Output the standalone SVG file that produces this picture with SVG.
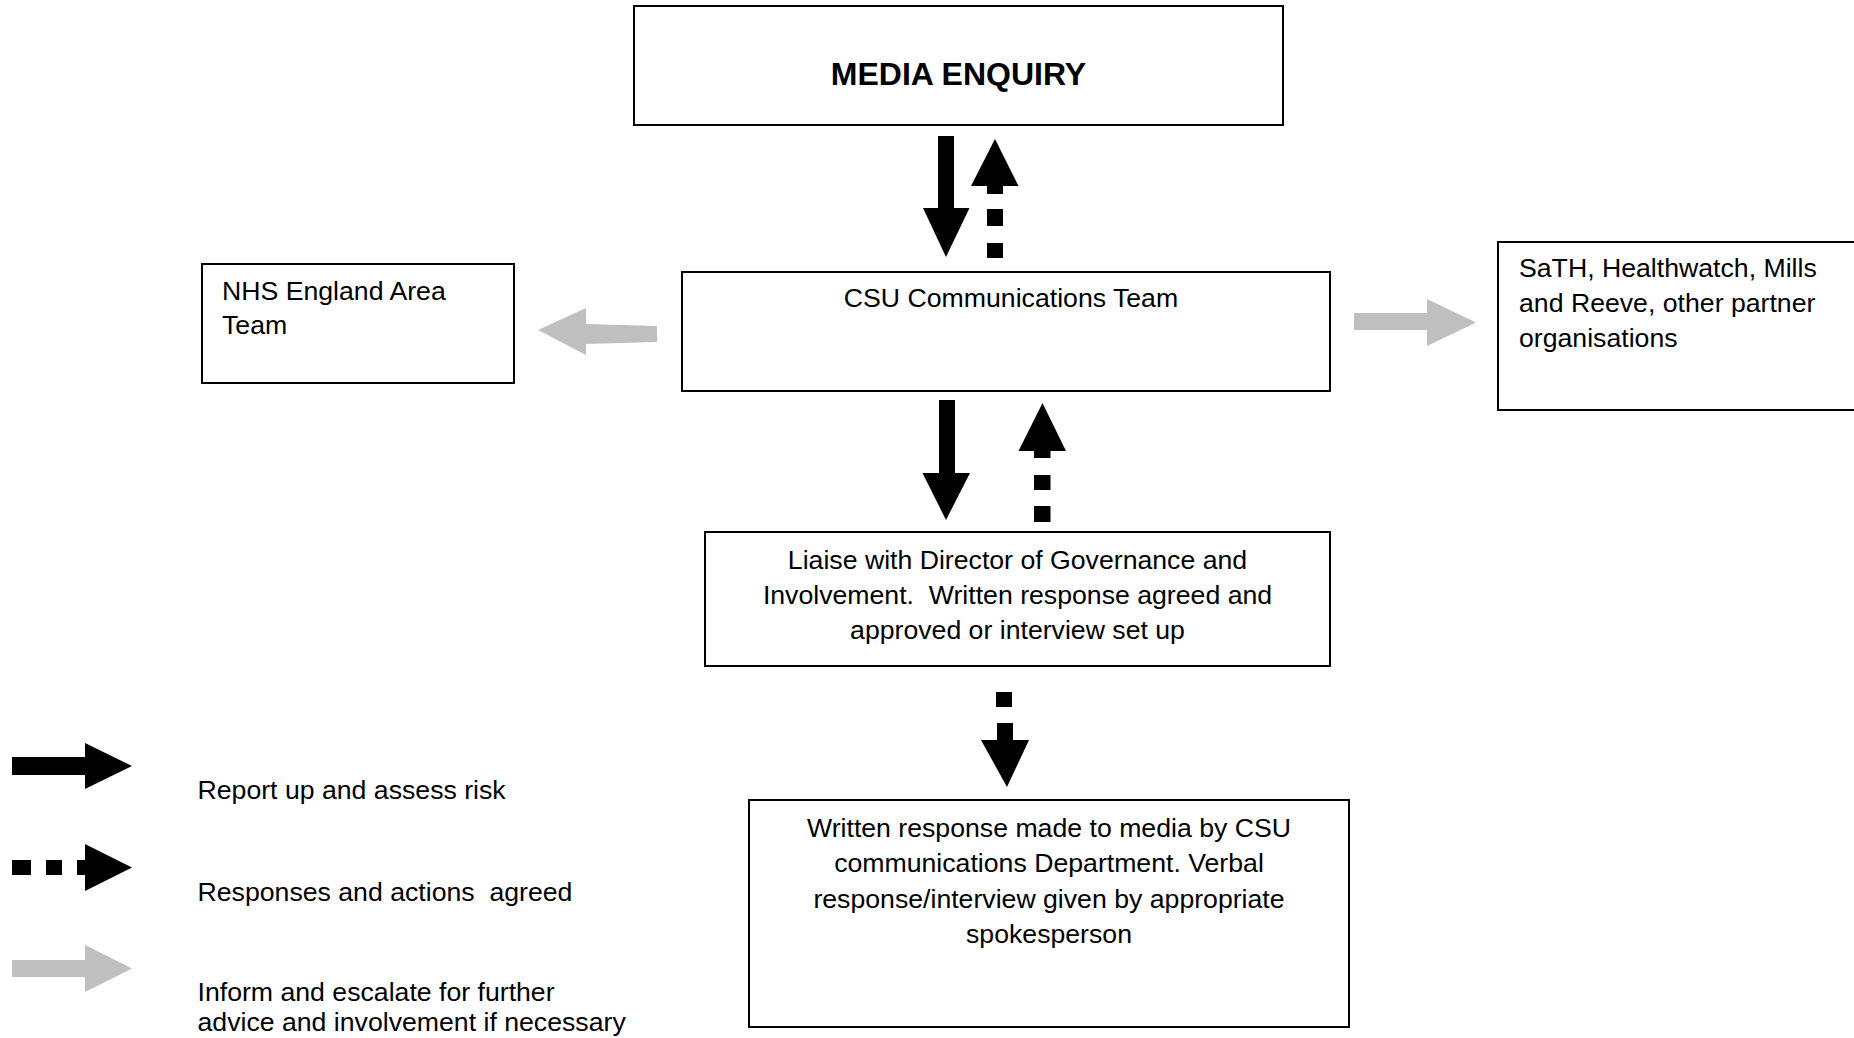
<svg xmlns="http://www.w3.org/2000/svg" width="1854" height="1038" viewBox="0 0 1854 1038">
<style>
.box{fill:#ffffff;stroke:#000000;stroke-width:2}
.t{font-family:"Liberation Sans",Arial,sans-serif;font-size:26.67px;fill:#000000}
.c{text-anchor:middle}
.b{font-weight:bold;font-size:32px}
.blk{fill:#000000}
.gry{fill:#bfbfbf}
</style>
<rect x="0" y="0" width="1854" height="1038" fill="#ffffff"/>
<g id="media-enquiry">
<rect class="box" x="634" y="6" width="649" height="119"/>
<text class="t c b" x="958.5" y="85">MEDIA ENQUIRY</text>
</g>
<g id="csu-team">
<rect class="box" x="682" y="272" width="648" height="119"/>
<text class="t c" x="1011" y="307">CSU Communications Team</text>
</g>
<g id="nhs-england">
<rect class="box" x="202" y="264" width="312" height="119"/>
<text class="t" x="222" y="300">NHS England Area</text>
<text class="t" x="222" y="334">Team</text>
</g>
<g id="partners">
<rect class="box" x="1498" y="242" width="380" height="168"/>
<text class="t" x="1519" y="277">SaTH, Healthwatch, Mills</text>
<text class="t" x="1519" y="312">and Reeve, other partner</text>
<text class="t" x="1519" y="347">organisations</text>
</g>
<g id="liaise">
<rect class="box" x="705" y="532" width="625" height="134"/>
<text class="t c" x="1017.5" y="569">Liaise with Director of Governance and</text>
<text class="t c" x="1017.5" y="604" xml:space="preserve">Involvement.  Written response agreed and</text>
<text class="t c" x="1017.5" y="639">approved or interview set up</text>
</g>
<g id="written-response">
<rect class="box" x="749" y="800" width="600" height="227"/>
<text class="t c" x="1049" y="837">Written response made to media by CSU</text>
<text class="t c" x="1049" y="872">communications Department. Verbal</text>
<text class="t c" x="1049" y="908">response/interview given by appropriate</text>
<text class="t c" x="1049" y="943">spokesperson</text>
</g>
<g id="connectors">
<!-- media -> csu solid -->
<rect class="blk" x="938" y="136" width="16" height="73"/>
<polygon class="blk" points="923,208 969.5,208 946,257"/>
<!-- csu -> media dashed -->
<polygon class="blk" points="971,186 1018.5,186 995,139"/>
<rect class="blk" x="987" y="185" width="16" height="9"/>
<rect class="blk" x="987" y="209" width="16" height="17"/>
<rect class="blk" x="987" y="243" width="16" height="15"/>
<!-- csu -> liaise solid -->
<rect class="blk" x="939" y="400" width="16" height="74"/>
<polygon class="blk" points="922.5,473 970,473 946,520"/>
<!-- liaise -> csu dashed -->
<polygon class="blk" points="1018.5,451 1066,451 1042.5,403"/>
<rect class="blk" x="1034" y="450" width="16.5" height="8"/>
<rect class="blk" x="1034" y="475" width="16.5" height="15"/>
<rect class="blk" x="1034" y="506" width="16.5" height="16"/>
<!-- liaise -> written dashed -->
<rect class="blk" x="996" y="692" width="16" height="15"/>
<rect class="blk" x="997" y="723" width="16" height="18"/>
<polygon class="blk" points="981,740 1029,740 1007,787"/>
<!-- csu -> nhs gray -->
<polygon class="gry" points="586,324 657,326 657,342 586,344"/>
<polygon class="gry" points="586,308 538,330 586,355"/>
<!-- csu -> partners gray -->
<rect class="gry" x="1354" y="313" width="74" height="17"/>
<polygon class="gry" points="1427,299 1427,346 1476,322.5"/>
</g>
<g id="legend">
<rect class="blk" x="12" y="757" width="74" height="18"/>
<polygon class="blk" points="85,743 85,789 132,766"/>
<text class="t" x="197.5" y="799">Report up and assess risk</text>
<rect class="blk" x="12" y="860" width="19" height="15"/>
<rect class="blk" x="46" y="860" width="16" height="15"/>
<rect class="blk" x="77" y="860" width="9" height="15"/>
<polygon class="blk" points="85,844 85,891 132,867.5"/>
<text class="t" x="197.5" y="901" xml:space="preserve">Responses and actions  agreed</text>
<rect class="gry" x="12" y="960" width="74" height="17"/>
<polygon class="gry" points="85,945 85,992 132,968.5"/>
<text class="t" x="197.5" y="1001">Inform and escalate for further</text>
<text class="t" x="197.5" y="1031">advice and involvement if necessary</text>
</g>
</svg>
